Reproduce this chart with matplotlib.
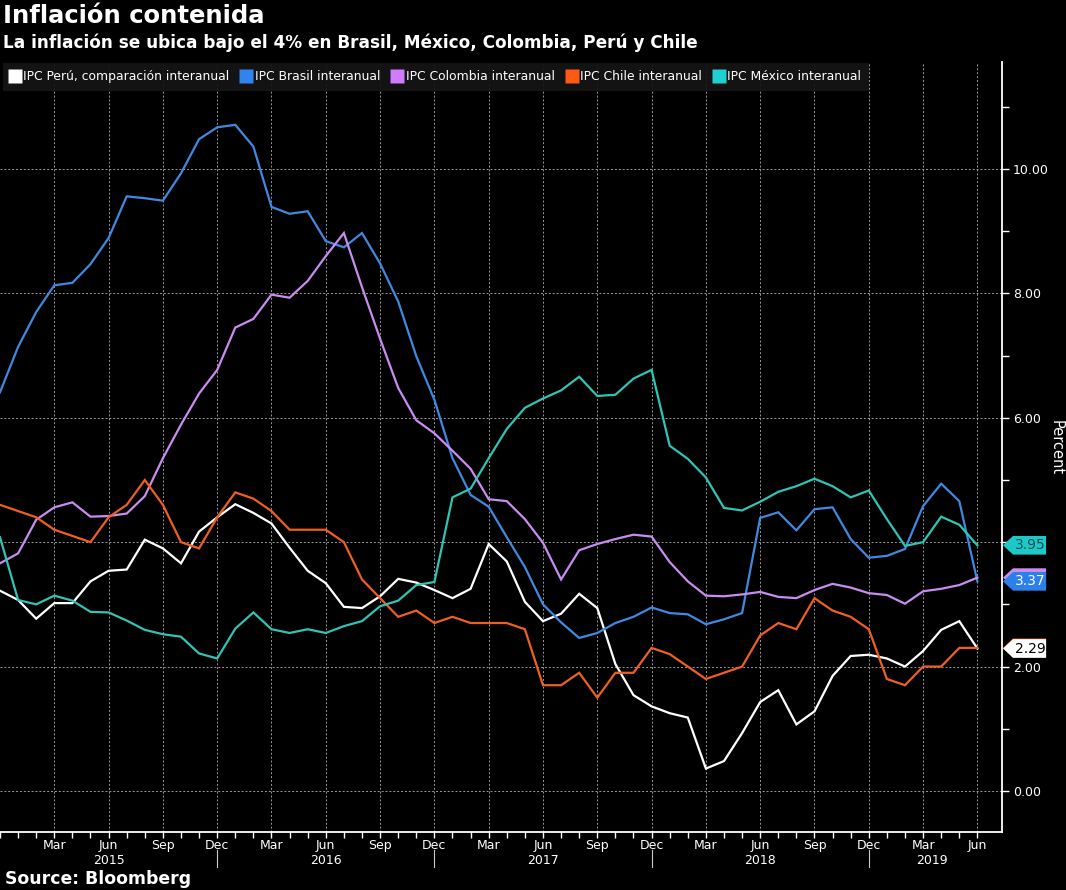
import matplotlib
matplotlib.use("Agg")
import matplotlib.pyplot as plt
import matplotlib.transforms as mtransforms
from matplotlib.lines import Line2D
from matplotlib.patches import Polygon
import pandas as pd

# meses: dic 2014 .. jun 2019
meses = pd.period_range("2014-12", "2019-06", freq="M")

peru = [3.22, 3.07, 2.77, 3.02, 3.02, 3.37, 3.54, 3.56, 4.04, 3.90, 3.66, 4.17, 4.40,
        4.61, 4.47, 4.30, 3.91, 3.54, 3.34, 2.96, 2.94, 3.13, 3.41, 3.35, 3.23,
        3.10, 3.25, 3.97, 3.69, 3.04, 2.73, 2.85, 3.17, 2.94, 2.04, 1.54, 1.36,
        1.25, 1.18, 0.36, 0.48, 0.93, 1.43, 1.62, 1.07, 1.28, 1.85, 2.17, 2.19,
        2.13, 2.00, 2.25, 2.59, 2.73, 2.29]
brasil = [6.41, 7.14, 7.70, 8.13, 8.17, 8.47, 8.89, 9.56, 9.53, 9.49, 9.93, 10.48, 10.67,
          10.71, 10.36, 9.39, 9.28, 9.32, 8.84, 8.74, 8.97, 8.48, 7.87, 6.99, 6.29,
          5.35, 4.76, 4.57, 4.08, 3.60, 3.00, 2.71, 2.46, 2.54, 2.70, 2.80, 2.95,
          2.86, 2.84, 2.68, 2.76, 2.86, 4.39, 4.48, 4.19, 4.53, 4.56, 4.05, 3.75,
          3.78, 3.89, 4.58, 4.94, 4.66, 3.37]
colombia = [3.66, 3.82, 4.36, 4.56, 4.64, 4.41, 4.42, 4.46, 4.74, 5.35, 5.89, 6.39, 6.77,
            7.45, 7.59, 7.98, 7.93, 8.20, 8.60, 8.97, 8.10, 7.27, 6.48, 5.96, 5.75,
            5.47, 5.18, 4.69, 4.66, 4.37, 3.99, 3.40, 3.87, 3.97, 4.05, 4.12, 4.09,
            3.68, 3.37, 3.14, 3.13, 3.16, 3.20, 3.12, 3.10, 3.23, 3.33, 3.27, 3.18,
            3.15, 3.01, 3.21, 3.25, 3.31, 3.43]
chile = [4.6, 4.5, 4.4, 4.2, 4.1, 4.0, 4.4, 4.6, 5.0, 4.6, 4.0, 3.9, 4.4,
         4.8, 4.7, 4.5, 4.2, 4.2, 4.2, 4.0, 3.4, 3.1, 2.8, 2.9, 2.7,
         2.8, 2.7, 2.7, 2.7, 2.6, 1.7, 1.7, 1.9, 1.5, 1.9, 1.9, 2.3,
         2.2, 2.0, 1.8, 1.9, 2.0, 2.5, 2.7, 2.6, 3.1, 2.9, 2.8, 2.6,
         1.8, 1.7, 2.0, 2.0, 2.3, 2.3]
mexico = [4.08, 3.07, 3.00, 3.14, 3.06, 2.88, 2.87, 2.74, 2.59, 2.52, 2.48, 2.21, 2.13,
          2.61, 2.87, 2.60, 2.54, 2.60, 2.54, 2.65, 2.73, 2.97, 3.06, 3.31, 3.36,
          4.72, 4.86, 5.35, 5.82, 6.16, 6.31, 6.44, 6.66, 6.35, 6.37, 6.63, 6.77,
          5.55, 5.34, 5.04, 4.55, 4.51, 4.65, 4.81, 4.90, 5.02, 4.90, 4.72, 4.83,
          4.37, 3.94, 4.00, 4.41, 4.28, 3.95]

nombres = ["IPC Perú, comparación interanual", "IPC Brasil interanual",
           "IPC Colombia interanual", "IPC Chile interanual", "IPC México interanual"]
series = [peru, brasil, colombia, chile, mexico]
colores = ["#ffffff", "#3f8ae0", "#c98cf0", "#f05f22", "#2ec4b6"]
colores_leyenda = ["#ffffff", "#2f84f0", "#d07cff", "#ff5a14", "#1fd0d0"]
colores_tag = ["#ffffff", "#2b80ec", "#c98cf0", "#f05f22", "#1ec8c8"]
texto_tag = ["#000000", "#ffffff", None, None, "#0b5050"]   # None: etiqueta tapada

fam = "DejaVu Sans"

W, H = 1066, 890
fig = plt.figure(figsize=(W / 100, H / 100), dpi=100, facecolor="black")
ax = fig.add_axes([0 / W, 1 - 832 / H, 1002 / W, 770 / H], facecolor="black")

x = list(range(len(meses)))
for s, c in zip(series, colores):
    ax.plot(x, s, color=c, lw=1.6, zorder=3, solid_joinstyle="miter")

ax.set_xlim(0, 55.36)
ax.set_ylim(-0.66, 11.72)

# eje y a la derecha
ax.yaxis.tick_right()
yt = [0, 2, 4, 6, 8, 10]
ax.set_yticks(yt)
ax.set_yticklabels(["" if v == 4 else "%.2f" % v for v in yt], fontfamily=fam, fontsize=9)
ax.set_yticks([1, 3, 5, 7, 9, 11], minor=True)
ax.tick_params(axis="y", which="both", colors="white", direction="out", length=5, width=1, pad=3)

# eje x: tick cada mes, etiqueta cada trimestre
quarters = [i for i, m in enumerate(meses) if m.month in (3, 6, 9, 12) and i > 0]
ax.set_xticks(quarters)
ax.set_xticklabels([meses[i].strftime("%b") for i in quarters], fontfamily=fam, fontsize=9)
ax.set_xticks(x, minor=True)
ax.tick_params(axis="x", which="both", colors="white", direction="out", length=4, width=1, pad=1)

ax.grid(True, which="major", color="#9a9a9a", ls=(0, (2, 2)), lw=0.7, zorder=1)

for lado in ["left", "top"]:
    ax.spines[lado].set_visible(False)
for lado in ["right", "bottom"]:
    ax.spines[lado].set_color("white")
    ax.spines[lado].set_linewidth(1.3)

# años bajo el eje
trans_x = mtransforms.blended_transform_factory(ax.transData, fig.transFigure)
for anio in range(2015, 2020):
    idx = [i for i, m in enumerate(meses) if m.year == anio]
    centro = idx[0] + 5 if anio < 2019 else 51.5
    ax.text(centro, 1 - 860 / H, str(anio), transform=trans_x,
            ha="center", va="center", color="white", fontfamily=fam, fontsize=9)
for i, m in enumerate(meses):
    if m.month == 12 and m.year >= 2015:
        ax.plot([i, i], [1 - 850 / H, 1 - 867 / H], transform=trans_x, color="#cccccc",
                lw=0.8, clip_on=False)

# leyenda
handles = [Line2D([], [], marker="s", ls="none", markersize=10, markerfacecolor=c,
                  markeredgecolor="none") for c in colores_leyenda]
leg = ax.legend(handles, nombres, loc="upper left", bbox_to_anchor=(0.003, 0.999), ncol=5,
                frameon=True, facecolor="#151515", edgecolor="none", framealpha=0.93,
                handlelength=0.7, handletextpad=0.35, columnspacing=1.0, borderaxespad=0,
                borderpad=0.6, prop={"family": fam, "size": 8.9}, fancybox=False)
for t in leg.get_texts():
    t.set_color("white")
leg.set_zorder(5)

# etiquetas de último valor
trans_tag = mtransforms.blended_transform_factory(ax.transAxes, ax.transData)
orden = [3, 0, 2, 1, 4]
for j in orden:
    v = series[j][-1]
    h = 0.15
    pts = [(1.001, v), (1.011, v + h), (1.044, v + h), (1.044, v - h), (1.011, v - h)]
    ax.add_patch(Polygon(pts, closed=True, transform=trans_tag, facecolor=colores_tag[j],
                         edgecolor="none", clip_on=False, zorder=6))
    if texto_tag[j] is not None:
        ax.text(1.028, v, "%.2f" % v, transform=trans_tag, ha="center", va="center",
                color=texto_tag[j], fontfamily=fam, fontsize=10, zorder=7, clip_on=False)

fig.text(1056 / W, 1 - 448 / H, "Percent", rotation=270, ha="center", va="center",
         color="white", fontfamily=fam, fontsize=10.5)

# títulos
fig.text(3 / W, 1 - 4 / H, "Inflación contenida", ha="left", va="top", color="white",
         fontfamily=fam, fontweight="bold", fontsize=17.5)
fig.text(3 / W, 1 - 34 / H, "La inflación se ubica bajo el 4% en Brasil, México, Colombia, Perú y Chile",
         ha="left", va="top", color="white", fontfamily=fam, fontweight="bold", fontsize=12.2)
fig.text(5 / W, 1 - 879 / H, "Source: Bloomberg", ha="left", va="center", color="white",
         fontfamily=fam, fontweight="bold", fontsize=12.4)

fig.savefig("out.png", dpi=100, facecolor="black")
